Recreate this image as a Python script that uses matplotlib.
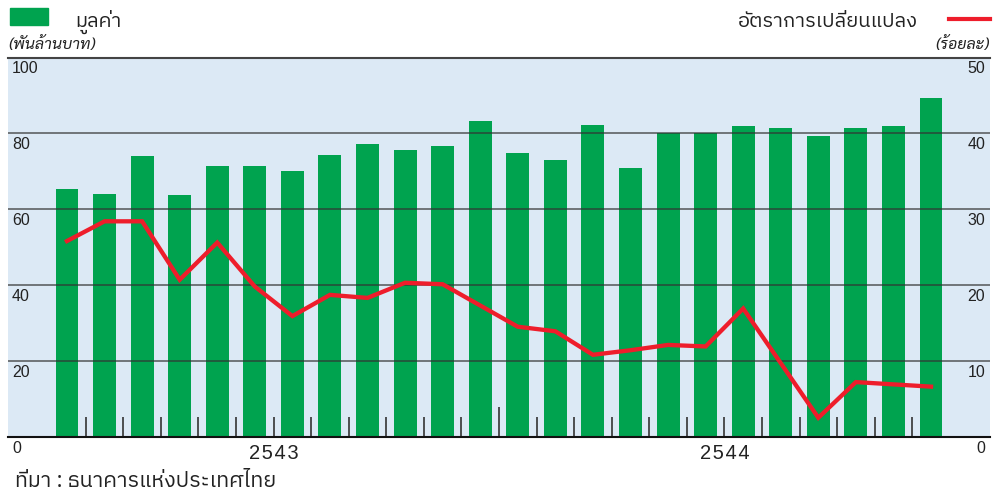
import matplotlib
matplotlib.use("Agg")
import matplotlib.pyplot as plt
from matplotlib.patches import Rectangle
from matplotlib.lines import Line2D
import matplotlib.transforms as mtransforms

# monthly data, 2543-2544
value = [65.3, 63.9, 74.0, 63.7, 71.4, 71.4, 70.0, 74.3, 77.2, 75.6, 76.7, 83.3,
         74.8, 73.0, 82.2, 70.8, 80.0, 80.0, 82.0, 81.5, 79.3, 81.5, 82.0, 89.2]
change = [25.8, 28.4, 28.4, 20.7, 25.6, 19.8, 15.9, 18.7, 18.3, 20.3, 20.1, 17.3,
          14.5, 13.9, 10.8, 11.4, 12.1, 11.9, 16.9, 9.7, 2.5, 7.2, 6.9, 6.6]
years = ["2543", "2544"]
left_ticks = [0, 20, 40, 60, 80, 100]
right_ticks = [0, 10, 20, 30, 40, 50]

THAI = ['IBM Plex Sans Thai', 'DejaVu Sans']
NUM = 'Liberation Sans'
GREEN = '#00A34F'
RED = '#EE1D2B'
BG = '#DCE9F5'
TXT = '#222222'

fig = plt.figure(figsize=(9.93, 4.95), dpi=100)
ax = fig.add_axes([8 / 993, 58.3 / 495, 982 / 993, 379.2 / 495])
ax.set_facecolor(BG)
x = list(range(len(value)))
ax.bar(x, value, width=0.61, color=GREEN, zorder=2)
ax.set_xlim(-1.57, 24.57)
ax.set_ylim(0, 100)

for g in [20, 40, 60, 80]:
    ax.axhline(g, color='#333333', lw=1.2, alpha=0.75, zorder=3)

for s in ['left', 'right']:
    ax.spines[s].set_visible(False)
ax.spines['top'].set_color('#444444')
ax.spines['top'].set_linewidth(1.5)
ax.spines['bottom'].set_color('#111111')
ax.spines['bottom'].set_linewidth(1.5)

# month ticks between bars, taller one between the years
n = len(value)
ax.set_xticks([11.5])
ax.set_xticks([i + 0.5 for i in range(n - 1) if i != 11], minor=True)
ax.tick_params(axis='x', which='major', direction='in', length=21.6, width=1.2,
               color='#333333', labelbottom=False)
ax.tick_params(axis='x', which='minor', direction='in', length=14.4, width=1.2,
               color='#333333')
ax.set_yticks([])

ax2 = ax.twinx()
ax2.plot(x, change, color=RED, lw=3.1, solid_joinstyle='miter', zorder=5)
ax2.set_ylim(0, 50)
ax2.set_yticks([])
for s in ax2.spines.values():
    s.set_visible(False)

# tick labels drawn inside the plot area, under each gridline
for v in left_ticks:
    ax.text(0.004, v - 4.2, str(v), transform=mtransforms.blended_transform_factory(ax.transAxes, ax.transData),
            ha='left', va='baseline', fontsize=11.5, family=NUM, color=TXT, clip_on=False)
for v in right_ticks:
    ax2.text(0.995, v - 2.1, str(v), transform=mtransforms.blended_transform_factory(ax2.transAxes, ax2.transData),
             ha='right', va='baseline', fontsize=11.5, family=NUM, color=TXT, clip_on=False)

bt = mtransforms.blended_transform_factory(ax.transData, ax.transAxes)
for k, yr in enumerate(years):
    ax.text(5.5 + 12 * k, -0.043, "\u200a".join(yr), transform=bt, ha='center', va='center',
            fontsize=14.5, family=[NUM, 'DejaVu Sans'], color=TXT)

# legend and units across the top
fig.patches.append(Rectangle((10 / 993, 1 - 25 / 495), 38 / 993, 17 / 495,
                             transform=fig.transFigure, color=GREEN))
fig.text(75 / 993, 1 - 27 / 495, "มูลค่า", family=THAI, fontsize=14.5,
         va='baseline', ha='left', color=TXT)
fig.lines.append(Line2D([949 / 993, 990 / 993], [1 - 19 / 495, 1 - 19 / 495],
                        transform=fig.transFigure, color=RED, lw=3))
fig.text(918 / 993, 1 - 27 / 495, "อัตราการเปลี่ยนแปลง", family=THAI, fontsize=14.5,
         va='baseline', ha='right', color=TXT)
fig.text(8 / 993, 1 - 49 / 495, "(พันล้านบาท)", family=['Sarabun', 'DejaVu Sans'],
         style='italic', fontsize=11.5, va='baseline', ha='left', color=TXT)
fig.text(990 / 993, 1 - 49 / 495, "(ร้อยละ)", family=['Sarabun', 'DejaVu Sans'],
         style='italic', fontsize=11.5, va='baseline', ha='right', color=TXT)
fig.text(15 / 993, 1 - 487 / 495, "ที่มา : ธนาคารแห่งประเทศไทย", family=THAI,
         fontsize=15.5, va='baseline', ha='left', color=TXT)

fig.savefig("out.png", dpi=100)
